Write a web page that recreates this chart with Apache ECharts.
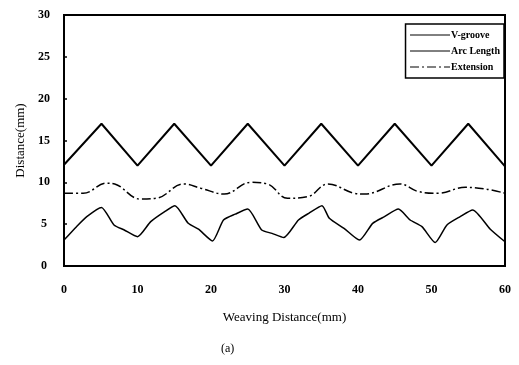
<!DOCTYPE html>
<html>
<head>
<meta charset="utf-8">
<script src="https://cdn.jsdelivr.net/npm/echarts@6/dist/echarts.min.js"></script>
<style>
  html, body { margin: 0; padding: 0; background: #fff; }
  #container { width: 519px; height: 365px; }
</style>
</head>
<body>
<div id="container"></div>
<script>
// weaving distance (mm) / measured distance (mm)
var vGroove = [[0, 12.1], [5.1, 17], [10, 12], [15, 17], [20, 12], [25, 17], [30, 12],
               [35, 17], [40, 12], [45, 17], [50, 12], [55, 17], [60, 11.9]];
var arcLength = [[0, 3.1], [1.7, 4.7], [3.1, 5.9], [5.1, 7.0], [6.8, 4.9], [8.2, 4.3], [10, 3.5],
                 [11.8, 5.3], [13.7, 6.5], [15.1, 7.2], [16.9, 5.1], [18.3, 4.4], [20.2, 3.0],
                 [21.7, 5.5], [23.3, 6.2], [25, 6.8], [26.9, 4.3], [28.3, 3.9], [29.9, 3.4],
                 [31.9, 5.5], [33.3, 6.3], [35.1, 7.2], [36.1, 5.7], [38.1, 4.5], [40.2, 3.1],
                 [42, 5.1], [43.6, 5.9], [45.5, 6.8], [47.1, 5.5], [48.7, 4.7], [50.5, 2.8],
                 [52.1, 4.9], [53.9, 5.9], [55.6, 6.7], [58, 4.4], [60, 2.9]];
var extension = [[0, 8.7], [2.6, 8.7], [5.8, 9.9], [6.9, 9.8], [10.4, 8.0], [12.6, 8.1],
                 [16.3, 9.8], [18.6, 9.3], [21.8, 8.6], [25.4, 10.0], [27.7, 9.8], [30.4, 8.1],
                 [33.2, 8.3], [35.9, 9.8], [39.5, 8.7], [40.9, 8.6], [45.7, 9.8], [48.2, 8.9],
                 [50.9, 8.7], [54.6, 9.4], [57.4, 9.2], [60, 8.7]];
var seriesNames = ['V-groove', 'Arc Length', 'Extension'];

var fontFam = '"Liberation Serif", "DejaVu Serif", serif';

var chart = echarts.init(document.getElementById('container'));
var option = {
    backgroundColor: '#fff',
    animation: false,
    color: ['#000', '#000', '#000'],
    title: {
        text: '(a)',
        left: 216,
        top: 338,
        textStyle: { fontFamily: fontFam, fontSize: 12, fontWeight: 'normal', color: '#000' }
    },
    legend: {
        data: seriesNames,
        orient: 'vertical',
        right: 15,
        top: 24,
        itemWidth: 40,
        itemHeight: 10,
        itemGap: 6,
        padding: [6, 4, 6, 4],
        borderColor: '#000',
        borderWidth: 1.5,
        backgroundColor: '#fff',
        itemStyle: { opacity: 0 },
        lineStyle: { width: 1 },
        textStyle: { fontFamily: fontFam, fontSize: 10, fontWeight: 'bold', color: '#000', padding: [0, 0, 0, -4] }
    },
    grid: {
        show: true,
        left: 64,
        right: 14,
        top: 15,
        bottom: 99,
        borderWidth: 2,
        borderColor: '#000',
        backgroundColor: 'rgba(0,0,0,0)'
    },
    xAxis: {
        type: 'value',
        min: 0,
        max: 60,
        interval: 10,
        name: 'Weaving Distance(mm)',
        nameLocation: 'middle',
        nameGap: 45,
        nameTextStyle: { fontFamily: fontFam, fontSize: 13, color: '#000' },
        splitLine: { show: false },
        axisLine: { show: true, lineStyle: { color: '#000', width: 2 } },
        axisTick: { show: false },
        axisLabel: { margin: 18, color: '#000', fontFamily: fontFam, fontSize: 12, fontWeight: 'bold' }
    },
    yAxis: {
        type: 'value',
        min: 0,
        max: 30,
        interval: 5,
        name: 'Distance(mm)',
        nameLocation: 'middle',
        nameRotate: 90,
        nameGap: 37,
        nameTextStyle: { fontFamily: fontFam, fontSize: 13, color: '#000' },
        splitLine: { show: false },
        axisLine: { show: true, lineStyle: { color: '#000', width: 2 } },
        axisTick: { show: true, inside: true, length: 3, lineStyle: { color: '#000', width: 1.5 } },
        axisLabel: { margin: 20, align: 'center', color: '#000', fontFamily: fontFam, fontSize: 12, fontWeight: 'bold' }
    },
    series: [{
        name: seriesNames[0],
        type: 'line',
        data: vGroove,
        symbol: 'none',
        lineStyle: { color: '#000', width: 2 }
    }, {
        name: seriesNames[1],
        type: 'line',
        data: arcLength,
        symbol: 'none',
        smooth: 0.2,
        lineStyle: { color: '#000', width: 1.5 }
    }, {
        name: seriesNames[2],
        type: 'line',
        data: extension,
        symbol: 'none',
        smooth: 0.4,
        lineStyle: { color: '#000', width: 1.5, type: [9, 3, 2, 3] }
    }]
};
chart.setOption(option);
</script>
</body>
</html>
